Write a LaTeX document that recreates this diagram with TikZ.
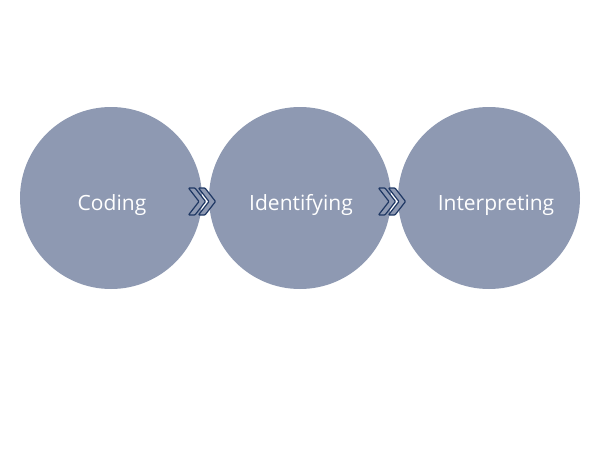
\documentclass[tikz,border=0pt]{standalone}
\usepackage{fontspec}
\setmainfont{Open Sans}
\usepackage{tikz}
\definecolor{stepgray}{HTML}{8E99B2}
\definecolor{chevnavy}{HTML}{1F3864}
\tikzset{
blob/.style = {circle, fill=stepgray, minimum size = #1, inner sep=0pt},
blob/.default = 182pt, % diameter of the circle
lbl/.style = {text=white, font=\fontsize{21}{25}\selectfont, anchor=base, inner sep=0pt},
dchev/.pic = {
  \foreach \dx in {0,10} {
    \draw[chevnavy, fill=stepgray, line width=1.2pt, line join=round, rounded corners=0.8pt]
      (\dx-8.5,-13.5) -- (\dx-2,-13.5) -- (\dx+8.5,0) -- (\dx-2,13.5)
      -- (\dx-8.5,13.5) -- (\dx+2,0) -- cycle;
  }
},
}

\begin{document}
\begin{tikzpicture}[x=1pt, y=-1pt]
  \useasboundingbox (0,0) rectangle (600,450);

  % Circles
    \node[blob] (codeBox) at (111,198) {};
    \node[blob] (identBox) at (300,198) {};
    \node[blob] (interpBox) at (489,198) {};

  % Labels
    \node[lbl, xshift=1pt, yshift=-12pt] (codeText) at (codeBox.center) {Coding};
    \node[lbl, xshift=1pt, yshift=-12pt] (identText) at (identBox.center) {Identifying};
    \node[lbl, xshift=7pt, yshift=-12pt] (interpText) at (interpBox.center) {Interpreting};

  % Chevrons
    \coordinate (chevA) at (197,201.5);
    \coordinate (chevB) at (387,201.5);
    \pic at (chevA) {dchev};
    \pic at (chevB) {dchev};
\end{tikzpicture}
\end{document}
